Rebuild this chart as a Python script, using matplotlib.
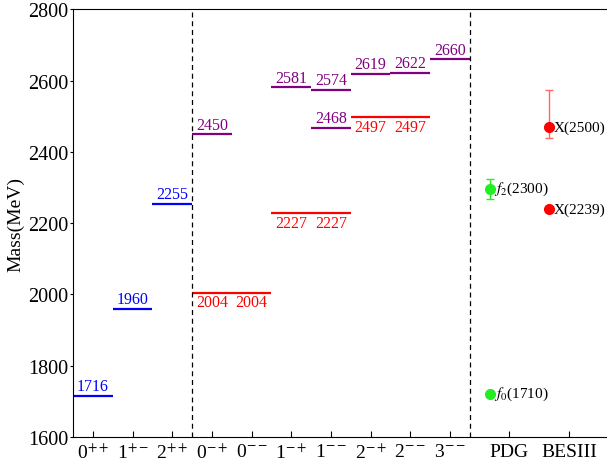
import matplotlib
matplotlib.use('Agg')
import matplotlib.pyplot as plt

plt.rcParams['font.family'] = ['Liberation Serif', 'DejaVu Serif']
plt.rcParams['mathtext.fontset'] = 'stix'

## data
tick_labels = ['0$^{++}$', '1$^{+-}$', '2$^{++}$', '0$^{-+}$', '0$^{--}$',
               '1$^{-+}$', '1$^{--}$', '2$^{-+}$', '2$^{--}$', '3$^{--}$',
               'PDG', 'BESIII']
tick_pos = [1, 2, 3, 4, 5, 6, 7, 8, 9, 10, 11.5, 13]

blue_x = [1, 2, 3]
blue_m = [1716, 1960, 2255]

red_x = [4, 5, 6, 7, 8, 9]
red_m = [2004, 2004, 2227, 2227, 2497, 2497]

purple_x = [4, 6, 7, 7, 8, 9, 10]
purple_m = [2450, 2581, 2574, 2468, 2619, 2622, 2660]

pdg_x = 11
pdg_names = ['$f_0$(1710)', '$f_2$(2300)']
pdg_m = [1722, 2297]
pdg_err = [0, 28]

bes_x = 12.5
bes_names = ['X(2239)', 'X(2500)']
bes_m = [2239, 2470]
bes_err_lo = [0, 30]
bes_err_hi = [0, 102]

fig = plt.figure(figsize=(6.07, 4.64), dpi=100)
ax = fig.add_axes([0.1203, 0.056, 0.8797, 0.922])

def niveaux(xs, ms, col, dessus):
    for x, m in zip(xs, ms):
        ax.hlines(m, x - 0.5, x + 0.5, color=col, lw=1.6)
        if dessus:
            ax.annotate(str(m), (x, m), xytext=(0, 1), textcoords='offset points',
                        ha='center', va='bottom', color=col, fontsize=11.5)
        else:
            ax.annotate(str(m), (x, m), xytext=(0, -1), textcoords='offset points',
                        ha='center', va='top', color=col, fontsize=11.5)

niveaux(blue_x, blue_m, 'blue', True)
niveaux(red_x, red_m, 'red', False)
niveaux(purple_x, purple_m, 'purple', True)

# separations
ax.axvline(3.5, color='black', ls='--', lw=0.9, dashes=(4, 3))
ax.axvline(10.5, color='black', ls='--', lw=0.9, dashes=(4, 3))

# PDG
ax.errorbar([pdg_x] * len(pdg_m), pdg_m, yerr=pdg_err, fmt='o', color='#22ee22',
            ms=7, capsize=3, elinewidth=1, capthick=1)
for n, m in zip(pdg_names, pdg_m):
    ax.annotate(n, (pdg_x, m), xytext=(3, 0), textcoords='offset points',
                ha='left', va='center', fontsize=11)

# BESIII
ax.errorbar([bes_x] * len(bes_m), bes_m, yerr=[bes_err_lo, bes_err_hi], fmt='o',
            color='red', ecolor='#ff6666', ms=7, capsize=3, elinewidth=1, capthick=1)
for n, m in zip(bes_names, bes_m):
    ax.annotate(n, (bes_x, m), xytext=(3, 0), textcoords='offset points',
                ha='left', va='center', fontsize=11)

ax.set_xlim(0.5, 13.96)
ax.set_ylim(1600, 2800)
ax.set_yticks(range(1600, 2801, 200))
ax.set_xticks(tick_pos)
ax.set_xticklabels(tick_labels)
ax.tick_params(axis='x', direction='in', length=4, labelsize=14, pad=4)
ax.tick_params(axis='y', direction='out', length=2.5, labelsize=14.5, pad=1)
ax.spines['right'].set_visible(False)
ax.set_ylabel('Mass(MeV)', fontsize=14)
ax.yaxis.set_label_coords(-0.092, 0.5)

fig.savefig('out.png', dpi=100)
